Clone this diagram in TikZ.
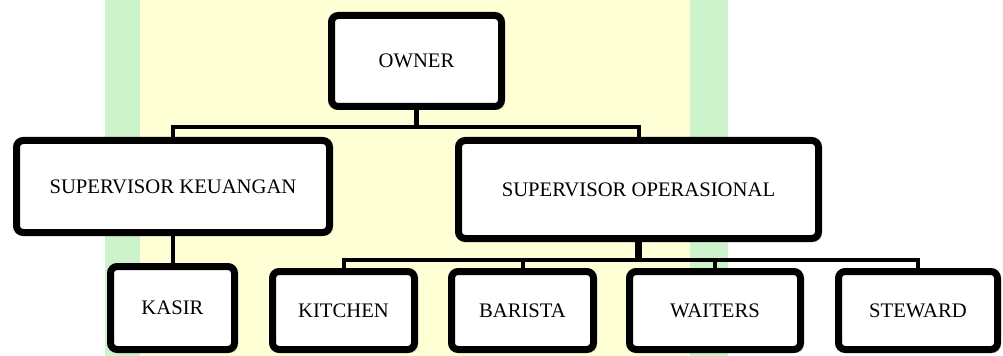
\documentclass[tikz,border=0pt]{standalone}
\usepackage{fontspec}
\setmainfont{Liberation Serif}
\usetikzlibrary{shadows}

\definecolor{wmkuning}{RGB}{255,255,214}
\definecolor{wmhijau}{RGB}{205,243,205}

\tikzset{
    jabatan/.style={draw, line width=5.25pt, rounded corners=5pt, fill=white,
        drop shadow={shadow xshift=2.5pt, shadow yshift=-2.5pt, opacity=0.25},
        font=\fontsize{15.5}{18}\selectfont, inner sep=0pt},
    garis/.style={line width=3pt}
}

\begin{document}
\begin{tikzpicture}[x=0.75pt, y=-0.75pt]
    \useasboundingbox (0,0) rectangle (1003,356);

    % latar (watermark)
    \fill[wmkuning] (140,0) rectangle (690,356);
    \fill[wmhijau] (105,0) rectangle (140,356);
    \fill[wmhijau] (690,0) rectangle (728,356);

    % kotak jabatan
    \node[jabatan, minimum width=170*0.75pt, minimum height=91*0.75pt] (owner) at (416.5,61) {OWNER};
    \node[jabatan, minimum width=313*0.75pt, minimum height=92*0.75pt] (sk) at (173,186.5) {SUPERVISOR KEUANGAN};
    \node[jabatan, minimum width=360*0.75pt, minimum height=98*0.75pt] (so) at (638.5,189.5) {SUPERVISOR OPERASIONAL};

    % baris bawah
    \node[jabatan, minimum width=124*0.75pt, minimum height=83*0.75pt] (kasir) at (172.5,308) {KASIR};
    \node[jabatan, minimum width=142*0.75pt, minimum height=78*0.75pt] (kitchen) at (343.5,310.5) {KITCHEN};
    \node[jabatan, minimum width=142*0.75pt, minimum height=78*0.75pt] (barista) at (522.5,310.5) {BARISTA};
    \node[jabatan, minimum width=171*0.75pt, minimum height=78*0.75pt] (waiters) at (715,310.5) {WAITERS};
    \node[jabatan, minimum width=159*0.75pt, minimum height=78*0.75pt] (steward) at (918,310.5) {STEWARD};

    % garis owner
    \draw[line width=3.75pt] (owner.south) -- ++(0,17.5) coordinate (busA);
    \draw[garis] (sk.north) |- (busA) -| (so.north);

    % garis supervisor keuangan
    \draw[garis] (sk.south) -- (sk.south |- kasir.north);

    % garis supervisor operasional
    \draw[line width=5pt] (so.south) -- ++(0,17.5) coordinate (busB);
    \draw[garis] (kitchen.north) |- (busB) -| (steward.north);
    \draw[garis] (barista.north) -- (barista.north |- busB);
    \draw[garis] (waiters.north) -- (waiters.north |- busB);
\end{tikzpicture}
\end{document}
